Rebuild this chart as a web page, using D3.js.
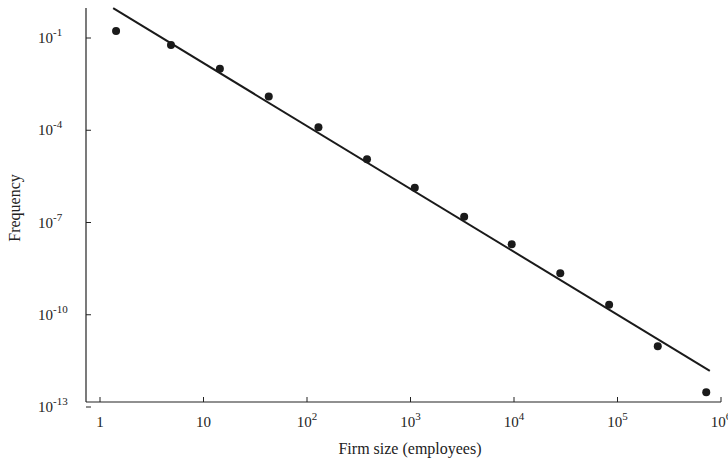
<!DOCTYPE html>
<html><head><meta charset="utf-8">
<script src="https://cdn.jsdelivr.net/npm/d3@7"></script>
<style>body{margin:0;background:#fff}text{font-family:"Liberation Serif","Times New Roman",serif;fill:#222}</style>
</head><body>
<script>
// data
var sizes = [1.43, 4.85, 14.4, 42.7, 129, 380, 1100, 3300, 9500, 28000, 83000, 245000, 720000];
var freqs = [0.17, 0.059, 0.01, 0.00126, 1.26e-4, 1.15e-5, 1.35e-6, 1.55e-7, 1.95e-8, 2.24e-9, 2.1e-10, 9.5e-12, 3e-13];
var fitX = [1.34, 7.8e5];
var fitY = [0.93, 1.5e-12];
var xTicks = [1, 10, 100, 1e3, 1e4, 1e5, 1e6];
var yTicks = [1e-1, 1e-4, 1e-7, 1e-10, 1e-13];

var width = 728, height = 466;
var x = d3.scaleLog().domain([1, 1e6]).range([100, 721]);
var y = d3.scaleLog().domain([1e-13, 1e-1]).range([407, 38]);

var svg = d3.select("body").append("svg").attr("width", width).attr("height", height);

// axes lines
svg.append("line").attr("x1", 86).attr("x2", 86).attr("y1", 8).attr("y2", 402).attr("stroke", "#222").attr("stroke-width", 1.2);
svg.append("line").attr("x1", 86).attr("x2", 721).attr("y1", 402).attr("y2", 402).attr("stroke", "#222").attr("stroke-width", 1.2);

function sup(sel, p) {
  if (p === 0) { sel.text("1"); return; }
  if (p === 1) { sel.text("10"); return; }
  sel.append("tspan").text("10");
  sel.append("tspan").attr("dy", -7).style("font-size", "11px").text(p);
}

xTicks.forEach(function(t) {
  var px = x(t);
  svg.append("line").attr("x1", px).attr("x2", px).attr("y1", 402).attr("y2", 397).attr("stroke", "#222");
  var tx = svg.append("text").attr("x", px).attr("y", 427).attr("text-anchor", "middle").style("font-size", "15px");
  sup(tx, Math.round(Math.log10(t)));
});
yTicks.forEach(function(t) {
  var py = y(t);
  svg.append("line").attr("x1", 86).attr("x2", 91).attr("y1", py).attr("y2", py).attr("stroke", "#222");
  var tx = svg.append("text").attr("x", 38).attr("y", py + 5).attr("text-anchor", "start").style("font-size", "15px");
  sup(tx, Math.round(Math.log10(t)));
});

svg.append("text").attr("x", 410).attr("y", 454).attr("text-anchor", "middle").style("font-size", "16px").text("Firm size (employees)");
svg.append("text").attr("transform", "translate(20,208) rotate(-90)").attr("text-anchor", "middle").style("font-size", "16px").text("Frequency");

var line = d3.line().x(function(d) { return x(d[0]); }).y(function(d) { return y(d[1]); });
svg.append("path").attr("d", line(d3.zip(fitX, fitY))).attr("stroke", "#1a1a1a").attr("stroke-width", 2).attr("fill", "none");

svg.selectAll("circle").data(d3.zip(sizes, freqs)).enter().append("circle")
  .attr("cx", function(d) { return x(d[0]); })
  .attr("cy", function(d) { return y(d[1]); })
  .attr("r", 4).attr("fill", "#1a1a1a");
</script>
</body></html>
